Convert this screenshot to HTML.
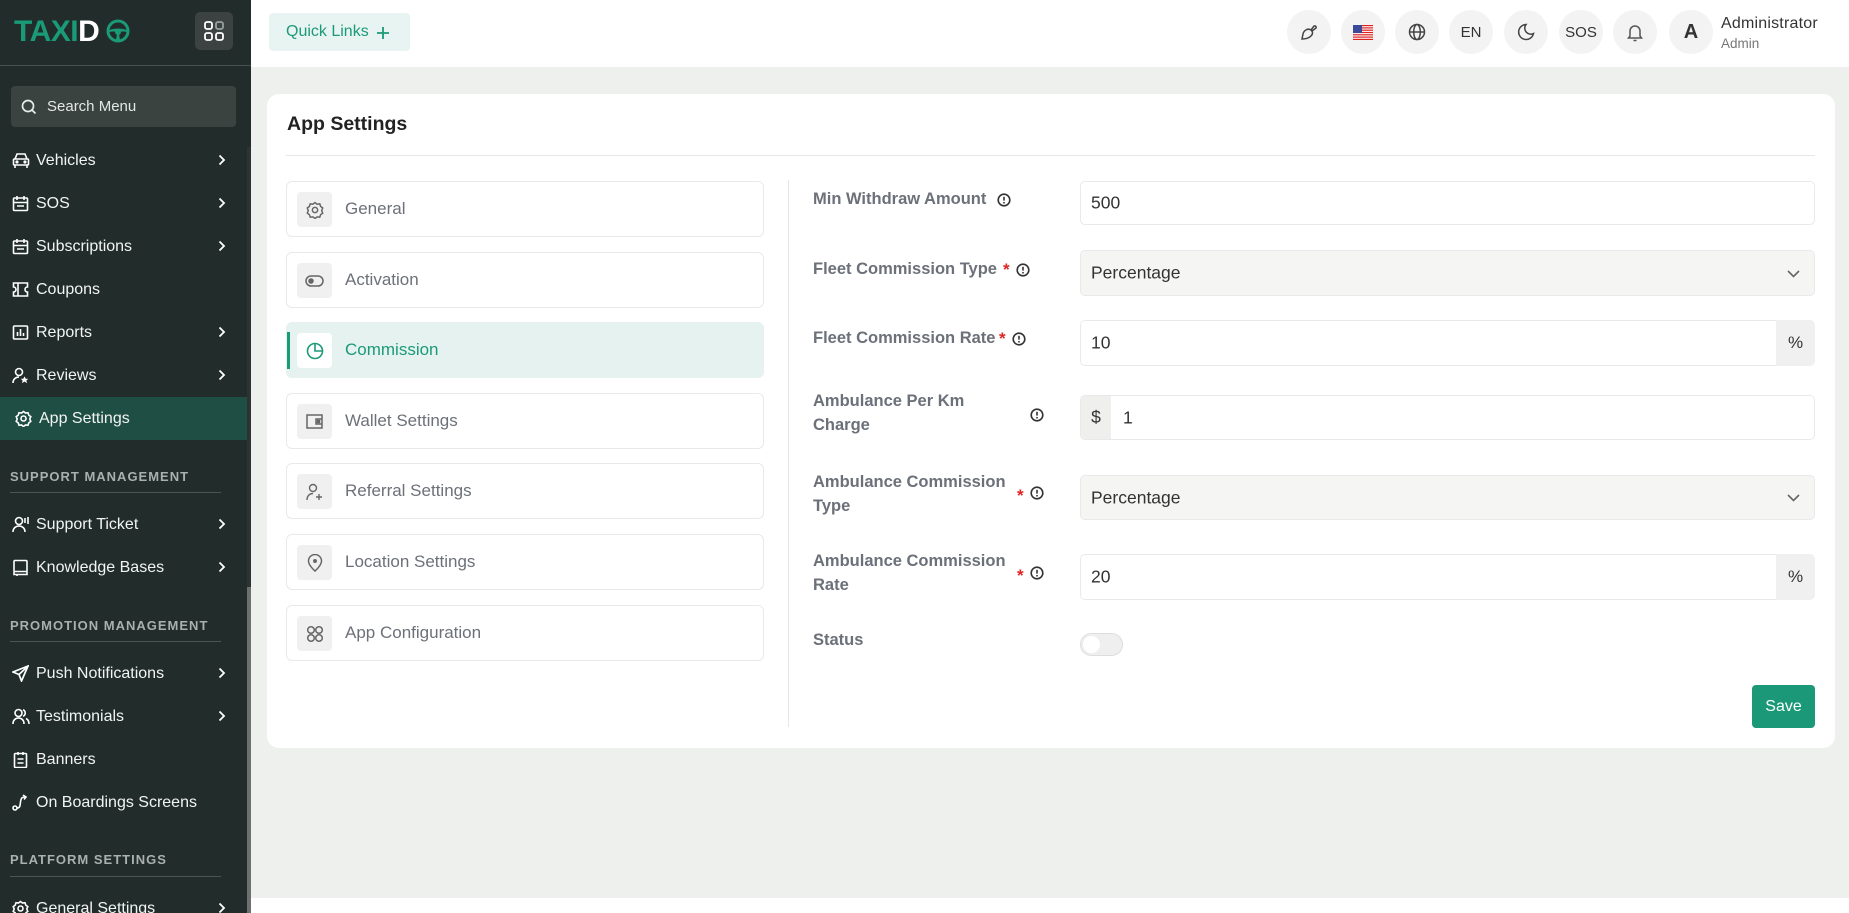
<!DOCTYPE html>
<html><head><meta charset="utf-8">
<style>
*{margin:0;padding:0;box-sizing:border-box}
html{width:1849px;height:913px;overflow:hidden}
body{width:1849px;height:913px;overflow:hidden;background:#eef0ee;font-family:"Liberation Sans",Arial,sans-serif;position:relative}
.a{position:absolute}
#side{left:0;top:0;width:251px;height:913px;background:#212c2b;overflow:hidden}
.si{position:absolute;left:0;width:247px;height:43px;color:#f2f4f3;font-size:16px;line-height:43px}
.si svg.ic{position:absolute;left:12px;top:13px}
.si span{position:absolute;left:36px;top:0;white-space:nowrap}
.si svg.ch{position:absolute;left:218px;top:15px}
.sh{position:absolute;left:10px;font-size:13px;font-weight:bold;letter-spacing:1px;color:#a9b0ae;white-space:nowrap}
.sl{position:absolute;left:10px;width:211px;height:1px;background:#4b5553}
.hc{position:absolute;top:10px;width:44px;height:44px;border-radius:50%;background:#f3f3f3;display:flex;align-items:center;justify-content:center;color:#333;font-size:15px}
.mi{position:absolute;left:286px;width:478px;height:56px;border:1px solid #e8eae9;border-radius:6px;background:#fff}
.mi .ib{position:absolute;left:10px;top:10px;width:35px;height:35px;background:#eff0ef;border-radius:4px;display:flex;align-items:center;justify-content:center}
.mi span{position:absolute;left:58px;top:0;line-height:54px;font-size:17px;color:#6c7078;white-space:nowrap}
.lb{position:absolute;left:813px;font-size:16.5px;font-weight:bold;color:#6b7079;line-height:24px}
.inp{position:absolute;left:1080px;width:735px;border:1px solid #e8eae9;border-radius:5px;background:#fff;font-size:17.5px;color:#333}
.inp span{position:absolute;left:10px;top:50%;transform:translateY(-50%)}
.sel{background:#f5f5f4}
.ast{position:absolute;color:#e02424;font-size:17px;font-weight:bold}
.inf{position:absolute}
</style></head><body>

<!-- SIDEBAR -->
<div id="side" class="a">
  <div class="a" style="left:14px;top:17px;font-size:30px;font-weight:900;letter-spacing:-0.5px;line-height:30px;white-space:nowrap"><span style="color:#1b9a78">TAXI</span><span style="color:#fff">D</span></div>
  <svg class="a" style="left:106px;top:19px" width="24" height="24" viewBox="0 0 24 24"><circle cx="12" cy="12" r="10" fill="none" stroke="#1b9a78" stroke-width="3"/><circle cx="12" cy="13" r="3" fill="#1b9a78"/><path d="M3 11 Q12 8 21 11 L21 13 Q16 12 14 13 L12 13 L10 13 Q8 12 3 13Z" fill="#1b9a78"/><path d="M11 15 L10 21 L14 21 L13 15Z" fill="#1b9a78"/></svg>
  <div class="a" style="left:195px;top:12px;width:38px;height:38px;background:#3b4241;border-radius:5px"></div>
  <svg class="a" style="left:204px;top:21px" width="20" height="20" viewBox="0 0 20 20" fill="none" stroke="#fff" stroke-width="1.8"><rect x="1" y="1" width="7" height="7" rx="2"/><rect x="12" y="1" width="7" height="7" rx="2" stroke="#9aa09f"/><rect x="1" y="12" width="7" height="7" rx="2"/><rect x="12" y="12" width="7" height="7" rx="2"/></svg>
  <div class="a" style="left:0;top:65px;width:251px;height:1px;background:#46514f"></div>
  <div class="a" style="left:11px;top:86px;width:225px;height:41px;background:#3b4341;border-radius:4px"></div>
  <svg class="a" style="left:21px;top:99px" width="16" height="16" viewBox="0 0 16 16" fill="none" stroke="#e8ecea" stroke-width="1.7"><circle cx="7" cy="7" r="5.5"/><path d="M11 11l3.5 3.5"/></svg>
  <div class="a" style="left:47px;top:98px;font-size:15px;color:#e3e7e5;white-space:nowrap">Search Menu</div>

  <div class="si" style="top:139px"><svg class="ic" width="18" height="17" viewBox="0 0 18 17" fill="none" stroke="#fff" stroke-width="1.6"><path d="M3 7 L5 2 H13 L15 7"/><rect x="1.5" y="7" width="15" height="6" rx="1"/><path d="M3 13v3M15 13v3"/><circle cx="5" cy="10" r=".8" fill="#fff"/><circle cx="13" cy="10" r=".8" fill="#fff"/></svg><span>Vehicles</span><svg class="ch" width="8" height="12" viewBox="0 0 8 12"><path d="M1.5 1.5L6 6l-4.5 4.5" fill="none" stroke="#fff" stroke-width="1.8"/></svg></div>
  <div class="si" style="top:182px"><svg class="ic" width="17" height="17" viewBox="0 0 17 17" fill="none" stroke="#fff" stroke-width="1.6"><rect x="1.5" y="3" width="14" height="12.5" rx="1"/><path d="M5 1v4M12 1v4M1.5 7.5h14M5 11h7"/></svg><span>SOS</span><svg class="ch" width="8" height="12" viewBox="0 0 8 12"><path d="M1.5 1.5L6 6l-4.5 4.5" fill="none" stroke="#fff" stroke-width="1.8"/></svg></div>
  <div class="si" style="top:225px"><svg class="ic" width="17" height="17" viewBox="0 0 17 17" fill="none" stroke="#fff" stroke-width="1.6"><rect x="1.5" y="3" width="14" height="12.5" rx="1"/><path d="M5 1v4M12 1v4M1.5 7.5h14M5 11h7"/></svg><span>Subscriptions</span><svg class="ch" width="8" height="12" viewBox="0 0 8 12"><path d="M1.5 1.5L6 6l-4.5 4.5" fill="none" stroke="#fff" stroke-width="1.8"/></svg></div>
  <div class="si" style="top:268px"><svg class="ic" width="17" height="17" viewBox="0 0 17 17" fill="none" stroke="#fff" stroke-width="1.6"><path d="M1.5 2h14v4a2.5 2.5 0 0 0 0 5v4h-14v-4a2.5 2.5 0 0 0 0-5z"/><path d="M6 2v13"/></svg><span>Coupons</span></div>
  <div class="si" style="top:311px"><svg class="ic" width="17" height="17" viewBox="0 0 17 17" fill="none" stroke="#fff" stroke-width="1.6"><rect x="1.5" y="2" width="14" height="13" rx="1"/><path d="M5.5 12V8M8.5 12V5M11.5 12V9"/></svg><span>Reports</span><svg class="ch" width="8" height="12" viewBox="0 0 8 12"><path d="M1.5 1.5L6 6l-4.5 4.5" fill="none" stroke="#fff" stroke-width="1.8"/></svg></div>
  <div class="si" style="top:354px"><svg class="ic" width="17" height="17" viewBox="0 0 17 17" fill="none" stroke="#fff" stroke-width="1.6"><circle cx="7" cy="5" r="3.5"/><path d="M1 16c0-4 3-6 6-6"/><path d="M12.5 10l1 2h2l-1.5 1.5.6 2-2.1-1.2-2.1 1.2.6-2L9.5 12h2z" fill="#fff" stroke-width=".6"/></svg><span>Reviews</span><svg class="ch" width="8" height="12" viewBox="0 0 8 12"><path d="M1.5 1.5L6 6l-4.5 4.5" fill="none" stroke="#fff" stroke-width="1.8"/></svg></div>
  <div class="a" style="left:0;top:397px;width:247px;height:43px;background:#1f4f44"></div>
  <div class="si" style="top:397px"><svg class="ic" style="left:15px" width="17" height="17" viewBox="0 0 17 17" fill="none" stroke="#fff" stroke-width="1.6"><circle cx="8.5" cy="8.5" r="2.5"/><path d="M8.5 1.5l2 1.5 2.5-.3.8 2.4 2 1.5-1 2.4 1 2.4-2 1.5-.8 2.4-2.5-.3-2 1.5-2-1.5-2.5.3-.8-2.4-2-1.5 1-2.4-1-2.4 2-1.5.8-2.4 2.5.3z"/></svg><span style="left:39px">App Settings</span></div>

  <div class="sh" style="top:469px">SUPPORT MANAGEMENT</div>
  <div class="sl" style="top:492px"></div>
  <div class="si" style="top:503px"><svg class="ic" width="18" height="17" viewBox="0 0 18 17" fill="none" stroke="#fff" stroke-width="1.6"><circle cx="7" cy="5" r="3.5"/><path d="M1 16c0-4 3-6 6-6s6 2 6 6"/><path d="M13 2v5M16 1v7"/></svg><span>Support Ticket</span><svg class="ch" width="8" height="12" viewBox="0 0 8 12"><path d="M1.5 1.5L6 6l-4.5 4.5" fill="none" stroke="#fff" stroke-width="1.8"/></svg></div>
  <div class="si" style="top:546px"><svg class="ic" width="17" height="17" viewBox="0 0 17 17" fill="none" stroke="#fff" stroke-width="1.6"><rect x="2" y="1.5" width="13" height="11" rx="1"/><path d="M2 12.5v3h13v-3M5 15.5v1.5"/></svg><span>Knowledge Bases</span><svg class="ch" width="8" height="12" viewBox="0 0 8 12"><path d="M1.5 1.5L6 6l-4.5 4.5" fill="none" stroke="#fff" stroke-width="1.8"/></svg></div>

  <div class="sh" style="top:618px">PROMOTION MANAGEMENT</div>
  <div class="sl" style="top:641px"></div>
  <div class="si" style="top:652px"><svg class="ic" width="17" height="17" viewBox="0 0 17 17" fill="none" stroke="#fff" stroke-width="1.7"><path d="M16 1L1 7l6 2.5L9.5 16z"/><path d="M7 9.5L16 1"/></svg><span>Push Notifications</span><svg class="ch" width="8" height="12" viewBox="0 0 8 12"><path d="M1.5 1.5L6 6l-4.5 4.5" fill="none" stroke="#fff" stroke-width="1.8"/></svg></div>
  <div class="si" style="top:695px"><svg class="ic" width="18" height="17" viewBox="0 0 18 17" fill="none" stroke="#fff" stroke-width="1.6"><circle cx="6.5" cy="5" r="3.5"/><path d="M1 16c0-4 2.5-6 5.5-6s5.5 2 5.5 6"/><path d="M11 1.8a3.5 3.5 0 0 1 0 6.5M14 10.5c2 1 3 3 3 5.5"/></svg><span>Testimonials</span><svg class="ch" width="8" height="12" viewBox="0 0 8 12"><path d="M1.5 1.5L6 6l-4.5 4.5" fill="none" stroke="#fff" stroke-width="1.8"/></svg></div>
  <div class="si" style="top:738px"><svg class="ic" width="17" height="17" viewBox="0 0 17 17" fill="none" stroke="#fff" stroke-width="1.6"><rect x="2.5" y="2.5" width="12" height="14" rx="1"/><path d="M6 1v3M11 1v3M5.5 8h6M5.5 12h6"/></svg><span>Banners</span></div>
  <div class="si" style="top:781px"><svg class="ic" width="17" height="17" viewBox="0 0 17 17" fill="none" stroke="#fff" stroke-width="1.6"><circle cx="3" cy="14" r="2"/><path d="M5 14c3 0 3-2 3.5-6S10 3 13 3"/><path d="M11 1l3 2-2 2.5" /></svg><span>On Boardings Screens</span></div>

  <div class="sh" style="top:852px">PLATFORM SETTINGS</div>
  <div class="sl" style="top:876px"></div>
  <div class="si" style="top:887px"><svg class="ic" width="17" height="17" viewBox="0 0 17 17" fill="none" stroke="#fff" stroke-width="1.6"><circle cx="8.5" cy="8.5" r="2.5"/><path d="M8.5 1.5l2 1.5 2.5-.3.8 2.4 2 1.5-1 2.4 1 2.4-2 1.5-.8 2.4-2.5-.3-2 1.5-2-1.5-2.5.3-.8-2.4-2-1.5 1-2.4-1-2.4 2-1.5.8-2.4 2.5.3z"/></svg><span>General Settings</span><svg class="ch" width="8" height="12" viewBox="0 0 8 12"><path d="M1.5 1.5L6 6l-4.5 4.5" fill="none" stroke="#fff" stroke-width="1.8"/></svg></div>
  <div class="a" style="left:247px;top:147px;width:4px;height:766px;background:#2b3433"></div>
  <div class="a" style="left:247px;top:587px;width:4px;height:326px;background:#6d706f"></div>
</div>

<!-- HEADER -->
<div class="a" style="left:251px;top:0;width:1598px;height:67px;background:#fff"></div>
<div class="a" style="left:269px;top:13px;width:141px;height:38px;background:#e8f4f1;border-radius:4px"></div>
<div class="a" style="left:286px;top:23px;font-size:16px;color:#1b9a78;white-space:nowrap">Quick Links</div>
<svg class="a" style="left:376px;top:26px" width="14" height="14" viewBox="0 0 14 14"><path d="M7 1v12M1 7h12" stroke="#1b9a78" stroke-width="1.8"/></svg>

<div class="hc" style="left:1287px"><svg width="18" height="18" viewBox="0 0 18 18" fill="none" stroke="#444" stroke-width="1.5"><path d="M11 7c-3-2-7 0-8 4l-1 5c3 0 7-1 9-3 2-2 2-4 0-6z"/><path d="M11 7l3-4a1.5 1.5 0 0 1 2 2l-4 3"/></svg></div>
<div class="hc" style="left:1341px"><svg width="20" height="15" viewBox="0 0 20 15"><rect width="20" height="15" fill="#fff"/><g fill="#d22"><rect y="0" width="20" height="1.2"/><rect y="2.3" width="20" height="1.2"/><rect y="4.6" width="20" height="1.2"/><rect y="6.9" width="20" height="1.2"/><rect y="9.2" width="20" height="1.2"/><rect y="11.5" width="20" height="1.2"/><rect y="13.8" width="20" height="1.2"/></g><rect width="9" height="8" fill="#3c4a9a"/></svg></div>
<div class="hc" style="left:1395px"><svg width="18" height="18" viewBox="0 0 18 18" fill="none" stroke="#444" stroke-width="1.5"><circle cx="9" cy="9" r="7.5"/><ellipse cx="9" cy="9" rx="3.3" ry="7.5"/><path d="M1.5 9h15"/></svg></div>
<div class="hc" style="left:1449px">EN</div>
<div class="hc" style="left:1504px"><svg width="18" height="18" viewBox="0 0 18 18" fill="none" stroke="#444" stroke-width="1.5"><path d="M9 1.5a7.5 7.5 0 1 0 7.5 9A6 6 0 0 1 9 1.5z"/></svg></div>
<div class="hc" style="left:1559px">SOS</div>
<div class="hc" style="left:1613px"><svg width="18" height="19" viewBox="0 0 18 19" fill="none" stroke="#555" stroke-width="1.5"><path d="M4 13V8a5 5 0 0 1 10 0v5l1.5 2h-13z"/><path d="M7.5 17.5h3"/></svg></div>
<div class="hc" style="left:1669px;font-size:20px;font-weight:bold;color:#333">A</div>
<div class="a" style="left:1721px;top:15px;font-size:16px;color:#333;white-space:nowrap;letter-spacing:0.2px">Administrator</div>
<div class="a" style="left:1721px;top:36px;font-size:13.5px;color:#777;white-space:nowrap">Admin</div>

<!-- FOOTER -->
<div class="a" style="left:251px;top:898px;width:1598px;height:15px;background:#fff"></div>

<!-- CARD -->
<div class="a" style="left:267px;top:94px;width:1568px;height:654px;background:#fff;border-radius:12px"></div>
<div class="a" style="left:287px;top:113px;font-size:19.5px;font-weight:bold;color:#222;white-space:nowrap">App Settings</div>
<div class="a" style="left:286px;top:155px;width:1529px;height:1px;background:#e6e8e7"></div>
<div class="a" style="left:788px;top:180px;width:1px;height:547px;background:#e6e8e7"></div>

<!-- left menu -->
<div class="mi" style="top:181px"><div class="ib"><svg width="18" height="18" viewBox="0 0 17 17" fill="none" stroke="#666" stroke-width="1.4"><circle cx="8.5" cy="8.5" r="2.5"/><path d="M8.5 1.5l2 1.5 2.5-.3.8 2.4 2 1.5-1 2.4 1 2.4-2 1.5-.8 2.4-2.5-.3-2 1.5-2-1.5-2.5.3-.8-2.4-2-1.5 1-2.4-1-2.4 2-1.5.8-2.4 2.5.3z"/></svg></div><span>General</span></div>
<div class="mi" style="top:252px"><div class="ib"><svg width="19" height="12" viewBox="0 0 19 12" fill="none" stroke="#666" stroke-width="1.5"><rect x="1" y="1" width="17" height="10" rx="5"/><circle cx="6" cy="6" r="2" fill="#666"/></svg></div><span>Activation</span></div>
<div class="mi" style="top:322px;background:#e6f2ef;border-color:#e6f2ef"><div class="a" style="left:0;top:9px;width:3px;height:37px;background:#1b9a78"></div><div class="ib" style="background:#fff"><svg width="18" height="18" viewBox="0 0 18 18" fill="none" stroke="#1b9a78" stroke-width="1.6"><circle cx="9" cy="9" r="7.5"/><path d="M9 1.5V9h7.5"/></svg></div><span style="color:#1b9a78">Commission</span></div>
<div class="mi" style="top:393px"><div class="ib"><svg width="17" height="15" viewBox="0 0 17 15" fill="none" stroke="#666" stroke-width="1.5"><rect x="1" y="1" width="15" height="13"/><path d="M16 5h-6v5h6"/><rect x="11.5" y="6.5" width="2" height="2" fill="#666"/></svg></div><span>Wallet Settings</span></div>
<div class="mi" style="top:463px"><div class="ib"><svg width="18" height="18" viewBox="0 0 18 18" fill="none" stroke="#666" stroke-width="1.4"><circle cx="7" cy="5" r="3.5"/><path d="M1 17c0-4 2.5-6.5 6-6.5"/><path d="M13 11v6M10 14h6"/></svg></div><span>Referral Settings</span></div>
<div class="mi" style="top:534px"><div class="ib"><svg width="16" height="18" viewBox="0 0 16 18" fill="none" stroke="#666" stroke-width="1.5"><path d="M8 17s6.5-5.5 6.5-10A6.5 6.5 0 0 0 1.5 7C1.5 11.5 8 17 8 17z"/><circle cx="8" cy="7" r="1.2" fill="#666"/></svg></div><span>Location Settings</span></div>
<div class="mi" style="top:605px"><div class="ib"><svg width="18" height="18" viewBox="0 0 18 18" fill="none" stroke="#666" stroke-width="1.5"><circle cx="5" cy="5" r="3.3"/><circle cx="13" cy="5" r="3.3"/><circle cx="5" cy="13" r="3.3"/><circle cx="13" cy="13" r="3.3"/></svg></div><span>App Configuration</span></div>

<!-- form -->
<div class="lb" style="top:187px">Min Withdraw Amount</div>
<svg class="inf" style="left:997px;top:193px" width="14" height="14" viewBox="0 0 14 14"><circle cx="7" cy="7" r="5.8" fill="none" stroke="#333" stroke-width="1.6"/><path d="M7 3.8v3.8" stroke="#333" stroke-width="1.6"/><circle cx="7" cy="9.8" r=".9" fill="#333"/></svg>
<div class="inp" style="top:181px;height:44px"><span>500</span></div>

<div class="lb" style="top:257px">Fleet Commission Type</div>
<div class="ast" style="left:1003px;top:260px">*</div>
<svg class="inf" style="left:1016px;top:263px" width="14" height="14" viewBox="0 0 14 14"><circle cx="7" cy="7" r="5.8" fill="none" stroke="#333" stroke-width="1.6"/><path d="M7 3.8v3.8" stroke="#333" stroke-width="1.6"/><circle cx="7" cy="9.8" r=".9" fill="#333"/></svg>
<div class="inp sel" style="top:250px;height:46px"><span>Percentage</span><svg class="a" style="left:706px;top:19px" width="13" height="8" viewBox="0 0 13 8"><path d="M1 1l5.5 5.5L12 1" fill="none" stroke="#666" stroke-width="1.6"/></svg></div>

<div class="lb" style="top:326px">Fleet Commission Rate</div>
<div class="ast" style="left:999px;top:329px">*</div>
<svg class="inf" style="left:1012px;top:332px" width="14" height="14" viewBox="0 0 14 14"><circle cx="7" cy="7" r="5.8" fill="none" stroke="#333" stroke-width="1.6"/><path d="M7 3.8v3.8" stroke="#333" stroke-width="1.6"/><circle cx="7" cy="9.8" r=".9" fill="#333"/></svg>
<div class="inp" style="top:320px;height:46px;width:697px;border-radius:5px 0 0 5px"><span>10</span></div>
<div class="a" style="left:1776px;top:320px;width:39px;height:46px;background:#eff0ef;border-radius:0 5px 5px 0;font-size:17px;color:#333;text-align:center;line-height:46px">%</div>

<div class="lb" style="top:389px">Ambulance Per Km<br>Charge</div>
<svg class="inf" style="left:1030px;top:408px" width="14" height="14" viewBox="0 0 14 14"><circle cx="7" cy="7" r="5.8" fill="none" stroke="#333" stroke-width="1.6"/><path d="M7 3.8v3.8" stroke="#333" stroke-width="1.6"/><circle cx="7" cy="9.8" r=".9" fill="#333"/></svg>
<div class="inp" style="top:395px;height:45px;overflow:hidden"><div class="a" style="left:0;top:0;width:30px;height:45px;background:#efefee;font-size:17.5px;color:#333;text-align:center;line-height:43px">$</div><span style="left:42px">1</span></div>

<div class="lb" style="top:470px">Ambulance Commission<br>Type</div>
<div class="ast" style="left:1017px;top:486px">*</div>
<svg class="inf" style="left:1030px;top:486px" width="14" height="14" viewBox="0 0 14 14"><circle cx="7" cy="7" r="5.8" fill="none" stroke="#333" stroke-width="1.6"/><path d="M7 3.8v3.8" stroke="#333" stroke-width="1.6"/><circle cx="7" cy="9.8" r=".9" fill="#333"/></svg>
<div class="inp sel" style="top:475px;height:45px"><span>Percentage</span><svg class="a" style="left:706px;top:18px" width="13" height="8" viewBox="0 0 13 8"><path d="M1 1l5.5 5.5L12 1" fill="none" stroke="#666" stroke-width="1.6"/></svg></div>

<div class="lb" style="top:549px">Ambulance Commission<br>Rate</div>
<div class="ast" style="left:1017px;top:566px">*</div>
<svg class="inf" style="left:1030px;top:566px" width="14" height="14" viewBox="0 0 14 14"><circle cx="7" cy="7" r="5.8" fill="none" stroke="#333" stroke-width="1.6"/><path d="M7 3.8v3.8" stroke="#333" stroke-width="1.6"/><circle cx="7" cy="9.8" r=".9" fill="#333"/></svg>
<div class="inp" style="top:554px;height:46px;width:697px;border-radius:5px 0 0 5px"><span>20</span></div>
<div class="a" style="left:1776px;top:554px;width:39px;height:46px;background:#eff0ef;border-radius:0 5px 5px 0;font-size:17px;color:#333;text-align:center;line-height:46px">%</div>

<div class="lb" style="top:628px">Status</div>
<div class="a" style="left:1080px;top:633px;width:43px;height:23px;background:#eeefee;border:1px solid #dcdedd;border-radius:12px"></div>
<div class="a" style="left:1083px;top:636px;width:17px;height:17px;background:#fff;border-radius:50%"></div>

<div class="a" style="left:1752px;top:685px;width:63px;height:43px;background:#1b9878;border-radius:4px;color:#fff;font-size:16px;text-align:center;line-height:43px">Save</div>

</body></html>
